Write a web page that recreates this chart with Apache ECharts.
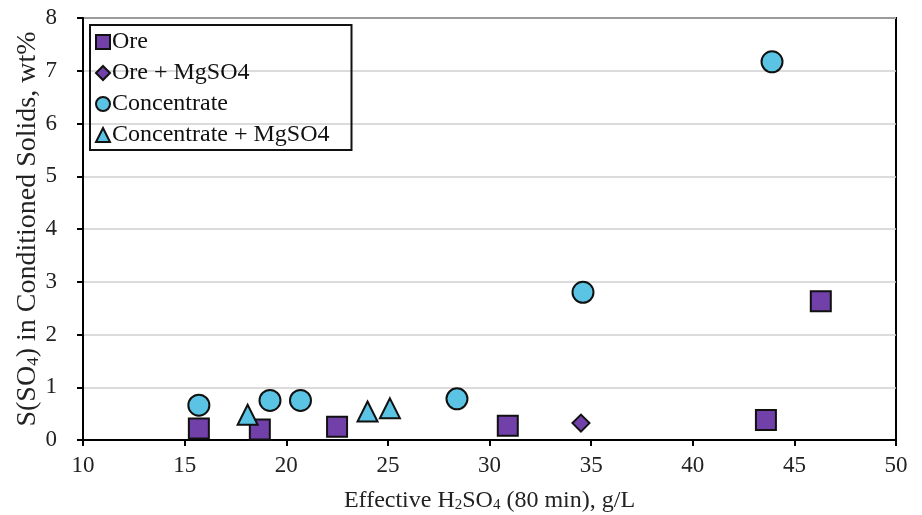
<!DOCTYPE html>
<html lang="en" style="height: 100%">
<head>
    <meta charset="UTF-8">
    <title>S(SO4) vs effective H2SO4</title>
    <script src="https://cdn.jsdelivr.net/npm/echarts@6/dist/echarts.min.js"></script>
</head>
<body style="height: 100%; margin: 0">
<div id="main" style="width: 922px; height: 515px"></div>
<script>
    // [effective H2SO4 g/L, S(SO4) wt%]
    var ore = [[15.7, 0.22], [18.7, 0.20], [22.5, 0.25], [30.9, 0.27], [43.6, 0.38], [46.3, 2.63]];
    var oreMg = [[34.5, 0.32]];
    var conc = [[15.7, 0.66], [19.2, 0.75], [20.7, 0.75], [28.4, 0.78], [34.6, 2.80], [43.9, 7.17]];
    var concMg = [[18.1, 0.48], [24.0, 0.54], [25.1, 0.60]];
    var xTicks = [10, 15, 20, 25, 30, 35, 40, 45, 50];
    var yTicks = [0, 1, 2, 3, 4, 5, 6, 7, 8];

    var purple = '#7140a8';
    var cyan = '#5bc3e3';
    var font = 'Liberation Serif';

    var myoption = {
        textStyle: { fontFamily: font },
        grid: {
            left: 83, right: 26, top: 18, bottom: 75, outerBoundsMode: 'none',
            show: true, borderColor: '#000', borderWidth: 2
        },
        legend: {
            orient: 'vertical',
            left: 90, top: 25,
            padding: [5, 22, 3, 5],
            itemGap: 7,
            itemWidth: 14, itemHeight: 14,
            borderColor: '#111', borderWidth: 2,
            textStyle: { fontFamily: font, fontSize: 24, color: '#111', padding: [0, 0, 0, -3] },
            data: [
                { name: 'Ore', icon: 'rect' },
                { name: 'Ore + MgSO4', icon: 'diamond' },
                { name: 'Concentrate', icon: 'circle' },
                { name: 'Concentrate + MgSO4', icon: 'triangle' }
            ]
        },
        xAxis: {
            type: 'value', min: xTicks[0], max: xTicks[xTicks.length - 1], interval: 5,
            name: 'Effective H{sub|2}SO{sub|4} (80 min), g/L',
            nameLocation: 'middle', nameGap: 48, nameMoveOverlap: false,
            nameTextStyle: {
                fontFamily: font, fontSize: 24, color: '#222',
                rich: { sub: { fontFamily: font, fontSize: 15, verticalAlign: 'bottom', padding: [10, 0, 0, 0] } }
            },
            axisLine: { lineStyle: { color: '#000', width: 2 } },
            axisTick: { inside: false, length: 6, lineStyle: { color: '#000', width: 2 } },
            axisLabel: { fontFamily: font, fontSize: 23, color: '#222', margin: 14 },
            splitLine: { show: false }
        },
        yAxis: {
            type: 'value', min: yTicks[0], max: yTicks[yTicks.length - 1], interval: 1,
            name: 'S(SO{sub|4}) in Conditioned Solids, wt%',
            nameLocation: 'middle', nameGap: 41, nameMoveOverlap: false,
            nameTextStyle: {
                fontFamily: font, fontSize: 28, color: '#222',
                rich: { sub: { fontFamily: font, fontSize: 17, verticalAlign: 'bottom', padding: [10, 0, 0, 0] } }
            },
            axisLine: { lineStyle: { color: '#000', width: 2 } },
            axisTick: { inside: false, length: 6, lineStyle: { color: '#000', width: 2 } },
            axisLabel: { fontFamily: font, fontSize: 23, color: '#222', margin: 26 },
            splitLine: { lineStyle: { color: '#cfcfcf', width: 1.5 } }
        },
        series: [
            {
                name: 'Ore', type: 'scatter', symbol: 'rect', symbolSize: 20, data: ore,
                itemStyle: { color: purple, borderColor: '#111', borderWidth: 2, opacity: 1 }
            },
            {
                name: 'Ore + MgSO4', type: 'scatter', symbol: 'diamond', symbolSize: 17, data: oreMg,
                itemStyle: { color: purple, borderColor: '#111', borderWidth: 2, opacity: 1 }
            },
            {
                name: 'Concentrate', type: 'scatter', symbol: 'circle', symbolSize: 21, data: conc,
                itemStyle: { color: cyan, borderColor: '#111', borderWidth: 2, opacity: 1 }
            },
            {
                name: 'Concentrate + MgSO4', type: 'scatter', symbol: 'triangle', symbolSize: 20, data: concMg,
                itemStyle: { color: cyan, borderColor: '#111', borderWidth: 2, opacity: 1 }
            }
        ]
    };
    var myChart = echarts.init(document.getElementById('main'));
    myChart.setOption(myoption);
</script>
</body>
</html>
